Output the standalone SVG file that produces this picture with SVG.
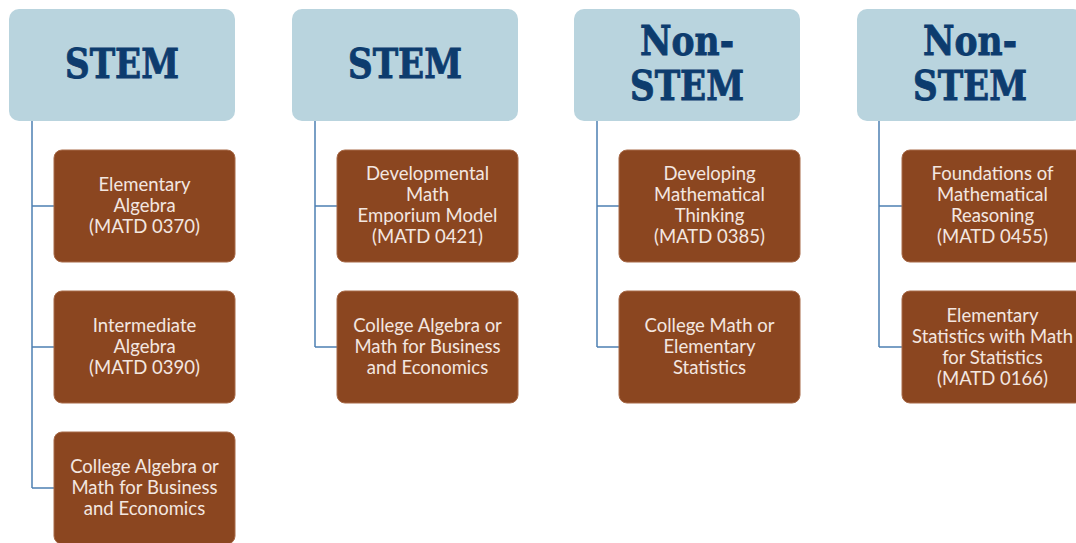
<svg xmlns="http://www.w3.org/2000/svg" width="1076" height="543" viewBox="0 0 1076 543">
<style>
.hdr{fill:#b9d4de;}
.hdrt{font-family:"DejaVu Serif",serif;font-weight:bold;font-size:41px;fill:#0d3c6e;stroke:#0d3c6e;stroke-width:0.9;text-anchor:middle;}
.box{fill:#8b4620;stroke:#a86a48;stroke-width:1;}
.bt{font-family:"Lato","Liberation Sans",sans-serif;font-size:18.5px;fill:#f3e7e0;text-anchor:middle;}
.con{fill:none;stroke:#4d80b3;stroke-width:1.5;}
</style>
<rect width="1076" height="543" fill="#ffffff"/>
<g id="connectors">
<path class="con" d="M32 121V488M32 206H54M32 347H54M32 488H54"/>
<path class="con" d="M315 121V347M315 206H337M315 347H337"/>
<path class="con" d="M597 121V347M597 206H619M597 347H619"/>
<path class="con" d="M879 121V347M879 206H902M879 347H902"/>
</g>
<g id="h1"><rect class="hdr" x="9" y="9" width="226" height="112" rx="10"/><text class="hdrt" x="122" y="78" textLength="114" lengthAdjust="spacingAndGlyphs">STEM</text></g>
<g id="h2"><rect class="hdr" x="292" y="9" width="226" height="112" rx="10"/><text class="hdrt" x="405" y="78" textLength="114" lengthAdjust="spacingAndGlyphs">STEM</text></g>
<g id="h3"><rect class="hdr" x="574" y="9" width="226" height="112" rx="10"/><text class="hdrt" x="687" y="55" textLength="94" lengthAdjust="spacingAndGlyphs">Non-</text><text class="hdrt" x="687" y="100" textLength="114" lengthAdjust="spacingAndGlyphs">STEM</text></g>
<g id="h4"><rect class="hdr" x="857" y="9" width="226" height="112" rx="10"/><text class="hdrt" x="970" y="55" textLength="94" lengthAdjust="spacingAndGlyphs">Non-</text><text class="hdrt" x="970" y="100" textLength="114" lengthAdjust="spacingAndGlyphs">STEM</text></g>
<g id="c1a"><rect class="box" x="54" y="150" width="181" height="112" rx="8"/><text class="bt" x="144.5" y="191">Elementary</text><text class="bt" x="144.5" y="212">Algebra</text><text class="bt" x="144.5" y="233">(MATD 0370)</text></g>
<g id="c1b"><rect class="box" x="54" y="291" width="181" height="112" rx="8"/><text class="bt" x="144.5" y="332">Intermediate</text><text class="bt" x="144.5" y="353">Algebra</text><text class="bt" x="144.5" y="374">(MATD 0390)</text></g>
<g id="c1c"><rect class="box" x="54" y="432" width="181" height="112" rx="8"/><text class="bt" x="144.5" y="473">College Algebra or</text><text class="bt" x="144.5" y="494">Math for Business</text><text class="bt" x="144.5" y="515">and Economics</text></g>
<g id="c2a"><rect class="box" x="337" y="150" width="181" height="112" rx="8"/><text class="bt" x="427.5" y="180">Developmental</text><text class="bt" x="427.5" y="201">Math</text><text class="bt" x="427.5" y="222">Emporium Model</text><text class="bt" x="427.5" y="243">(MATD 0421)</text></g>
<g id="c2b"><rect class="box" x="337" y="291" width="181" height="112" rx="8"/><text class="bt" x="427.5" y="332">College Algebra or</text><text class="bt" x="427.5" y="353">Math for Business</text><text class="bt" x="427.5" y="374">and Economics</text></g>
<g id="c3a"><rect class="box" x="619" y="150" width="181" height="112" rx="8"/><text class="bt" x="709.5" y="180">Developing</text><text class="bt" x="709.5" y="201">Mathematical</text><text class="bt" x="709.5" y="222">Thinking</text><text class="bt" x="709.5" y="243">(MATD 0385)</text></g>
<g id="c3b"><rect class="box" x="619" y="291" width="181" height="112" rx="8"/><text class="bt" x="709.5" y="332">College Math or</text><text class="bt" x="709.5" y="353">Elementary</text><text class="bt" x="709.5" y="374">Statistics</text></g>
<g id="c4a"><rect class="box" x="902" y="150" width="181" height="112" rx="8"/><text class="bt" x="992.5" y="180">Foundations of</text><text class="bt" x="992.5" y="201">Mathematical</text><text class="bt" x="992.5" y="222">Reasoning</text><text class="bt" x="992.5" y="243">(MATD 0455)</text></g>
<g id="c4b"><rect class="box" x="902" y="291" width="181" height="112" rx="8"/><text class="bt" x="992.5" y="322">Elementary</text><text class="bt" x="992.5" y="343">Statistics with Math</text><text class="bt" x="992.5" y="364">for Statistics</text><text class="bt" x="992.5" y="385">(MATD 0166)</text></g>
</svg>
